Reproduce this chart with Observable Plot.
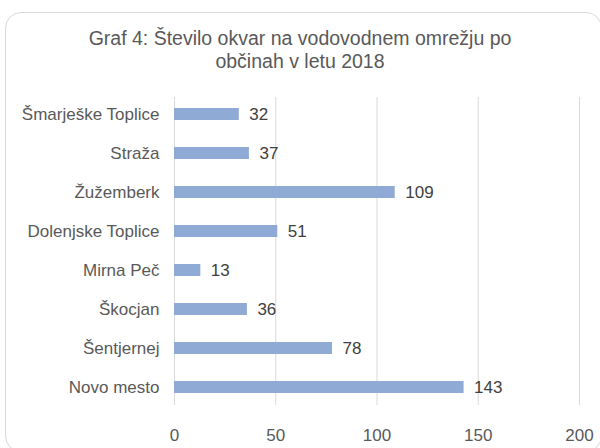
<!DOCTYPE html>
<html>
<head>
<meta charset="utf-8">
<script src="https://cdn.jsdelivr.net/npm/d3@7"></script>
<script src="https://cdn.jsdelivr.net/npm/@observablehq/plot@0.6"></script>
<style>
  html, body { margin: 0; padding: 0; background: #fff; }
  #wrap { position: relative; width: 600px; height: 448px; overflow: hidden; font-family: "Liberation Sans", Arial, sans-serif; }
  #frame { position: absolute; left: 5px; top: 12px; width: 597px; height: 440px; border: 1.5px solid #d9d9d9; border-radius: 16px; box-sizing: border-box; }
  #title { position: absolute; left: 0; width: 600px; top: 27px; text-align: center; font-size: 19.5px; line-height: 23px; color: #595959; }
  #chart { position: absolute; left: 0; top: 0; }
</style>
</head>
<body>
<div id="wrap">
  <div id="frame"></div>
  <div id="title">Graf 4: Število okvar na vodovodnem omrežju po<br>občinah v letu 2018</div>
  <div id="chart"></div>
</div>
<script>
const municipalities = ["Šmarješke Toplice", "Straža", "Žužemberk", "Dolenjske Toplice", "Mirna Peč", "Škocjan", "Šentjernej", "Novo mesto"];
const failures = [32, 37, 109, 51, 13, 36, 78, 143];
const xTicks = [0, 50, 100, 150, 200];

const data = municipalities.map((m, i) => ({ name: m, value: failures[i] }));

const chart = Plot.plot({
  width: 600,
  height: 448,
  marginLeft: 174,
  marginRight: 21,
  marginTop: 93,
  marginBottom: 41,
  style: { fontFamily: "Liberation Sans, Arial, sans-serif", fontSize: "17px", color: "#595959", background: "transparent" },
  x: { domain: [0, 200], ticks: xTicks },
  y: { domain: municipalities, paddingInner: 0.7, paddingOuter: 0.35 },
  marks: [
    Plot.ruleX(xTicks, { stroke: "#d9d9d9", strokeWidth: 1, insetTop: 4, insetBottom: 2 }),
    Plot.barX(data, { y: "name", x: "value", fill: "#8faad4" }),
    Plot.text(data, { y: "name", x: "value", text: d => String(d.value), textAnchor: "start", dx: 10, fill: "#404040", fontSize: 17 }),
    Plot.axisX({ ticks: xTicks, tickSize: 0, tickPadding: 21, fontSize: 17, fill: "#595959", label: null }),
    Plot.axisY({ tickSize: 0, tickPadding: 15, fontSize: 17, fill: "#595959", label: null })
  ]
});
document.getElementById("chart").appendChild(chart);
</script>
</body>
</html>
